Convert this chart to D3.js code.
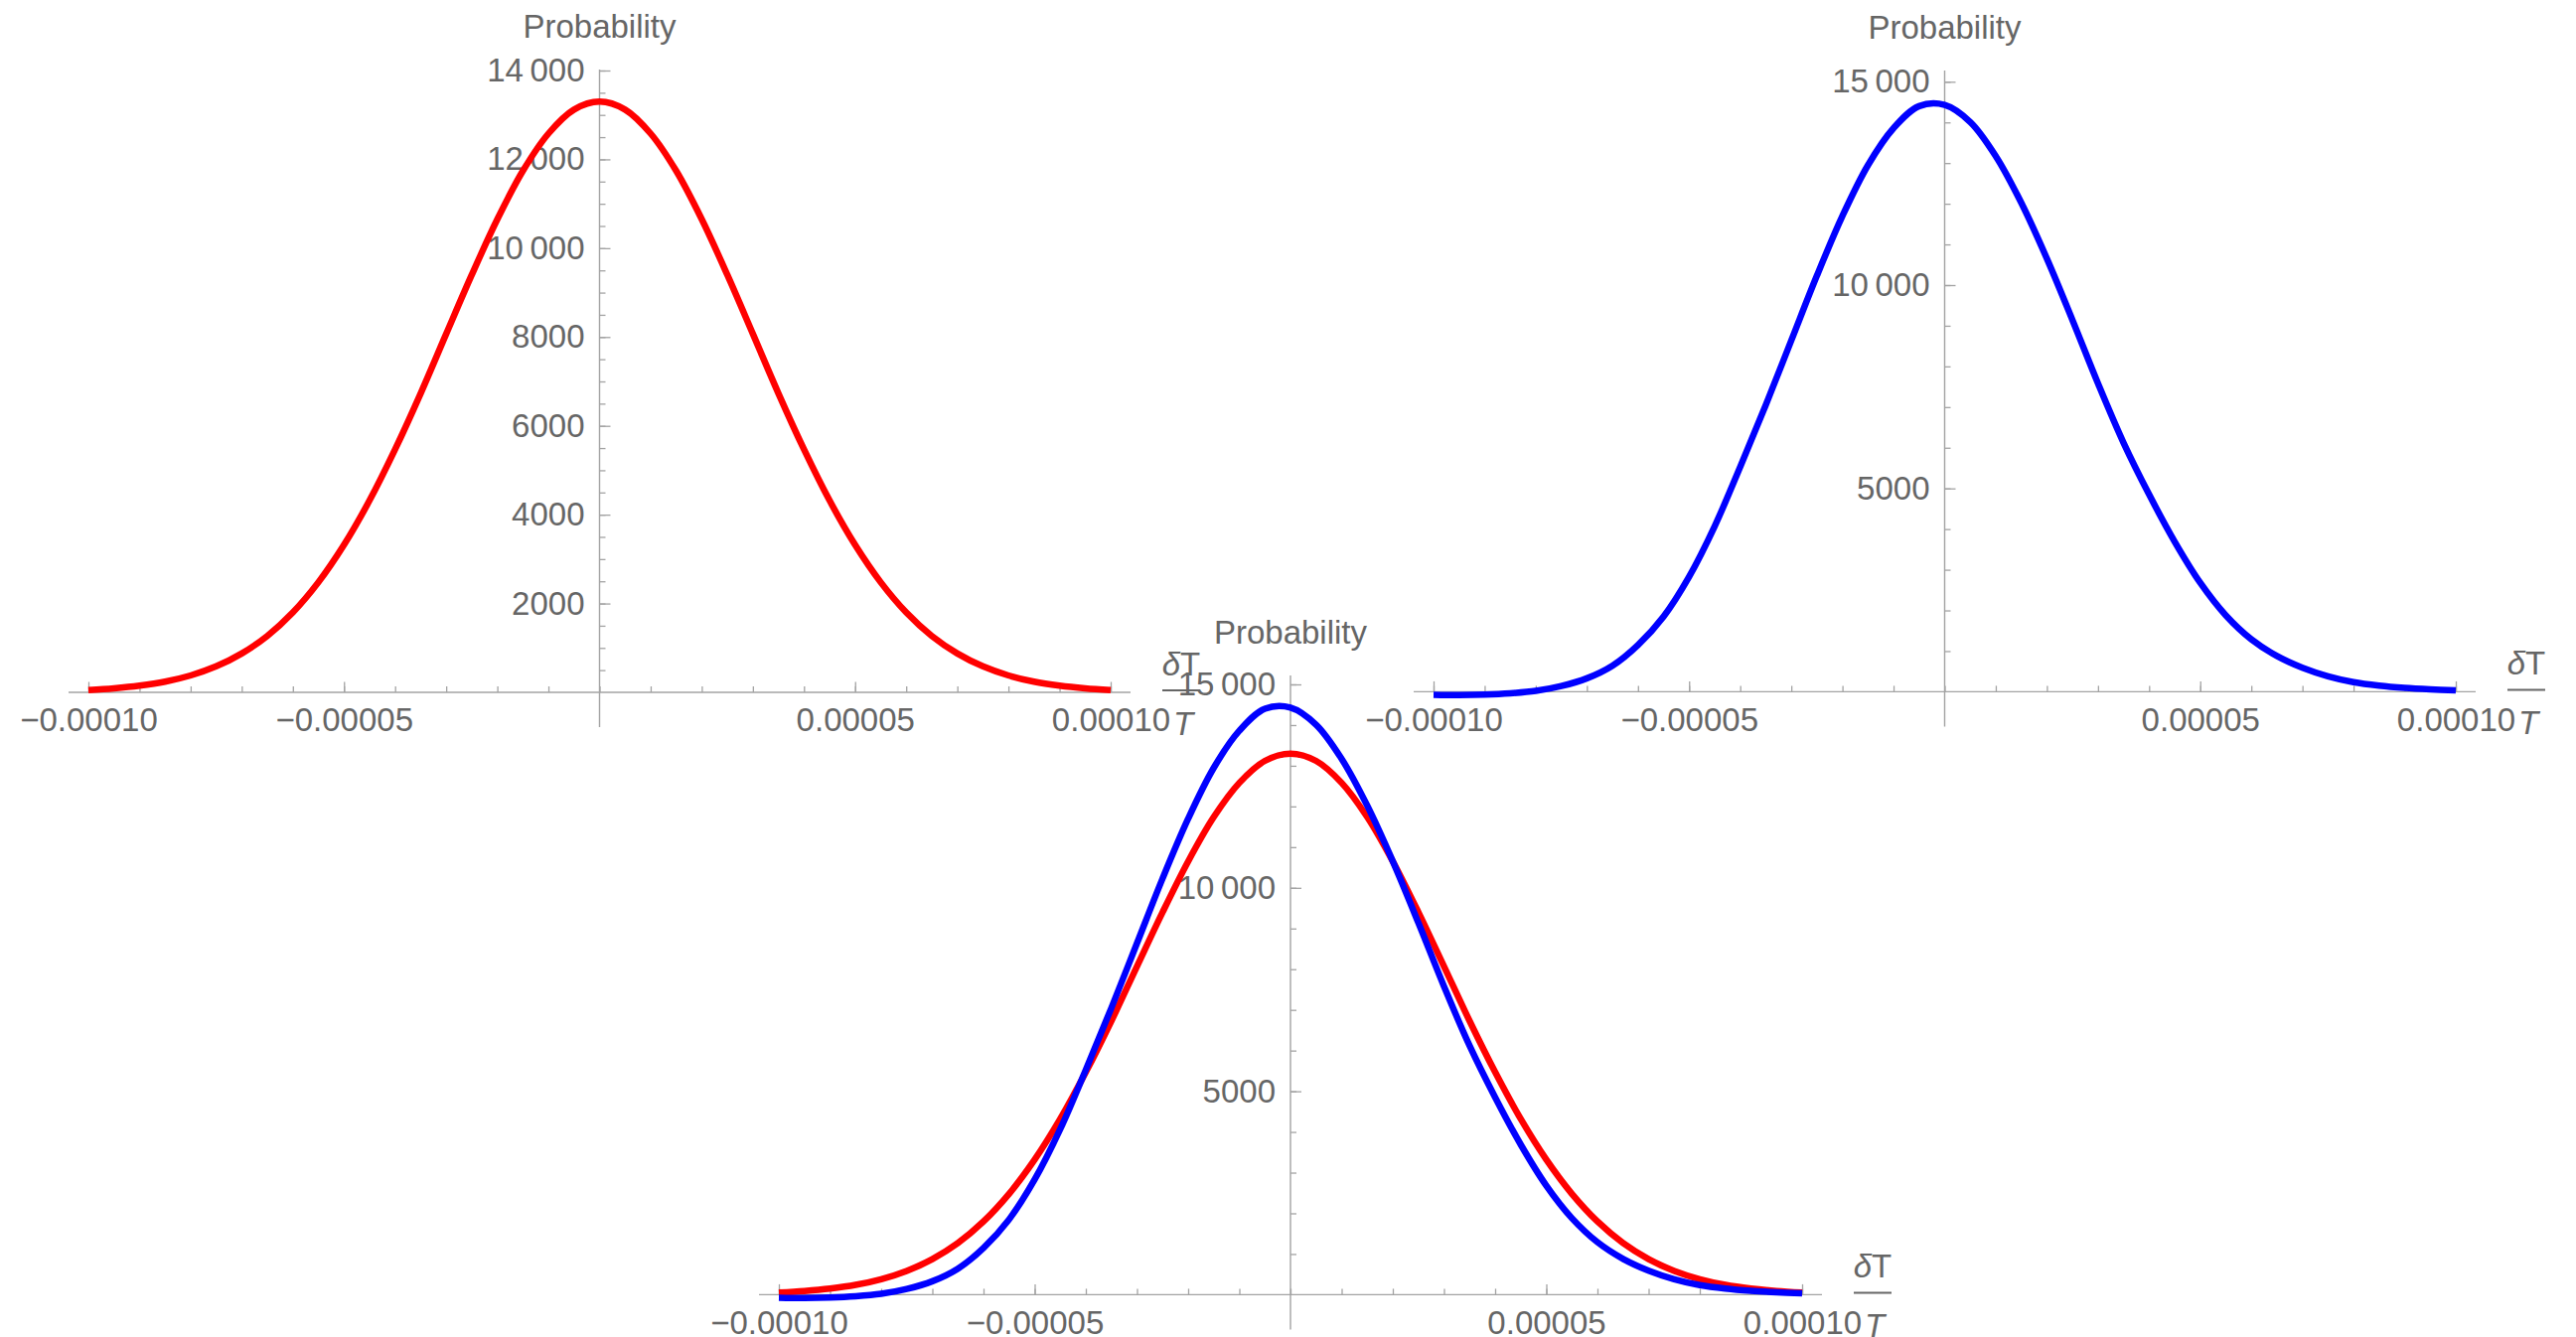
<!DOCTYPE html>
<html>
<head>
<meta charset="utf-8">
<script src="https://cdn.jsdelivr.net/npm/d3@7"></script>
<style>
  html, body { margin: 0; padding: 0; background: #fff; }
  svg { display: block; }
</style>
</head>
<body>
<div id="chart"></div>
<script>
const W = 2593;
const H = 1346;

// x values (δT/T), read every 0.000005
const deltaT = [
  -0.0001, -0.000095, -0.00009, -0.000085, -0.00008, -0.000075, -0.00007, -0.000065,
  -0.00006, -0.000055, -0.00005, -0.000045, -0.00004, -0.000035, -0.00003, -0.000025,
  -0.00002, -0.000015, -0.00001, -0.000005, 0, 0.000005, 0.00001, 0.000015,
  0.00002, 0.000025, 0.00003, 0.000035, 0.00004, 0.000045, 0.00005, 0.000055,
  0.00006, 0.000065, 0.00007, 0.000075, 0.00008, 0.000085, 0.00009, 0.000095, 0.0001
];

// red curve (top left panel)
const redProb = [
  50, 90, 150, 240, 380, 585, 875, 1270,
  1800, 2480, 3320, 4320, 5470, 6730, 8070, 9400,
  10650, 11740, 12580, 13120, 13300, 13120, 12580, 11740,
  10650, 9400, 8070, 6730, 5470, 4320, 3320, 2480,
  1800, 1270, 875, 585, 380, 240, 150, 90, 50
];

// blue curve (top right panel)
const blueProb = [
  -73, -80, -70, -40, 20, 140, 330, 640,
  1150, 1850, 2830, 4070, 5530, 7050, 8640, 10230,
  11700, 12950, 13860, 14400, 14430, 14010, 13170, 12020,
  10650, 9140, 7580, 6120, 4850, 3690, 2680, 1880,
  1290, 880, 590, 380, 235, 150, 95, 60, 35
];

const xTickValues = [-0.0001, -0.00005, 0.00005, 0.0001];
const xTickLabels = ['\u22120.00010', '\u22120.00005', '0.00005', '0.00010'];

const redYTicks = [2000, 4000, 6000, 8000, 10000, 12000, 14000];
const redYTickLabels = ['2000', '4000', '6000', '8000', '10\u2009000', '12\u2009000', '14\u2009000'];

const blueYTicks = [5000, 10000, 15000];
const blueYTickLabels = ['5000', '10\u2009000', '15\u2009000'];

const RED = '#ff0000';
const BLUE = '#0000ff';
const AXIS = '#a3a3a3';
const TEXT = '#666666';
const FONT = "'Liberation Sans', Arial, sans-serif";
const FS = 33;

const svg = d3.select('#chart').append('svg')
  .attr('width', W)
  .attr('height', H)
  .attr('viewBox', `0 0 ${W} ${H}`);

const redSeries = deltaT.map((d, i) => [d, redProb[i]]);
const blueSeries = deltaT.map((d, i) => [d, blueProb[i]]);

function drawPanel(p) {
  const x = d3.scaleLinear().domain([-0.0001, 0.0001]).range([p.left, p.right]);
  const y = d3.scaleLinear().domain([0, p.refValue]).range([p.zeroY, p.refY]);
  const g = svg.append('g');

  const x0 = x(0);
  const y0 = y(0);
  const axisLeft = p.left - 20;
  const axisRight = p.right + 20;

  // axis lines
  g.append('line')
    .attr('x1', axisLeft).attr('x2', axisRight)
    .attr('y1', y0).attr('y2', y0)
    .attr('stroke', AXIS).attr('stroke-width', 1.4);
  g.append('line')
    .attr('x1', x0).attr('x2', x0)
    .attr('y1', p.axisTop).attr('y2', y0 + 35)
    .attr('stroke', AXIS).attr('stroke-width', 1.4);

  // x ticks (pointing up into the plot)
  const xMinor = d3.range(-10, 11).map(i => i * 0.00001);
  g.append('g')
    .attr('transform', `translate(0,${y0})`)
    .call(d3.axisBottom(x).tickValues(xMinor).tickSize(-6).tickFormat(''))
    .call(s => s.select('.domain').remove());
  g.append('g')
    .attr('transform', `translate(0,${y0})`)
    .call(d3.axisBottom(x).tickValues(xTickValues).tickSize(-10.5).tickPadding(16)
      .tickFormat((d, i) => xTickLabels[i]))
    .call(s => s.select('.domain').remove());

  // y ticks (pointing right into the plot)
  g.append('g')
    .attr('transform', `translate(${x0},0)`)
    .call(d3.axisLeft(y).tickValues(p.yMinor).tickSize(-6).tickFormat(''))
    .call(s => s.select('.domain').remove());
  g.append('g')
    .attr('transform', `translate(${x0},0)`)
    .call(d3.axisLeft(y).tickValues(p.yTicks).tickSize(-11).tickPadding(15)
      .tickFormat((d, i) => p.yTickLabels[i]))
    .call(s => s.select('.domain').remove());

  g.selectAll('.tick line').attr('stroke', AXIS).attr('stroke-width', 1.3);
  g.selectAll('.tick text')
    .attr('fill', TEXT)
    .attr('font-family', FONT)
    .attr('font-size', FS);

  // axis titles
  g.append('text')
    .attr('x', x0)
    .attr('y', p.axisTop - 32)
    .attr('text-anchor', 'middle')
    .attr('font-family', FONT)
    .attr('font-size', FS)
    .attr('fill', TEXT)
    .text('Probability');

  const fc = axisRight + 51;
  const num = g.append('text')
    .attr('x', fc)
    .attr('y', y0 - 17)
    .attr('text-anchor', 'middle')
    .attr('font-family', FONT)
    .attr('font-size', FS)
    .attr('fill', TEXT);
  num.append('tspan').attr('font-style', 'italic').text('\u03b4');
  num.append('tspan').text('T');
  g.append('line')
    .attr('x1', fc - 19).attr('x2', fc + 19)
    .attr('y1', y0 - 2).attr('y2', y0 - 2)
    .attr('stroke', TEXT).attr('stroke-width', 2);
  g.append('text')
    .attr('x', fc + 2)
    .attr('y', y0 + 43)
    .attr('text-anchor', 'middle')
    .attr('font-family', FONT)
    .attr('font-size', FS)
    .attr('font-style', 'italic')
    .attr('fill', TEXT)
    .text('T');

  const line = d3.line()
    .x(d => x(d[0]))
    .y(d => y(d[1]))
    .curve(d3.curveCatmullRom.alpha(0.5));

  p.series.forEach(s => {
    g.append('path')
      .datum(s.data)
      .attr('d', line)
      .attr('fill', 'none')
      .attr('stroke', s.color)
      .attr('stroke-width', 6.5)
      .attr('stroke-linejoin', 'round');
  });
}

// top left: red
drawPanel({
  left: 89, right: 1118,
  zeroY: 697, refY: 71, refValue: 14000,
  axisTop: 70,
  yTicks: redYTicks, yTickLabels: redYTickLabels,
  yMinor: d3.range(1, 29).map(i => i * 500),
  series: [{ data: redSeries, color: RED }]
});

// top right: blue
drawPanel({
  left: 1443, right: 2472,
  zeroY: 696.4, refY: 82.3, refValue: 15000,
  axisTop: 71,
  yTicks: blueYTicks, yTickLabels: blueYTickLabels,
  yMinor: d3.range(1, 16).map(i => i * 1000),
  series: [{ data: blueSeries, color: BLUE }]
});

// bottom: both
drawPanel({
  left: 784, right: 1814,
  zeroY: 1303.4, refY: 689, refValue: 15000,
  axisTop: 680,
  yTicks: blueYTicks, yTickLabels: blueYTickLabels,
  yMinor: d3.range(1, 16).map(i => i * 1000),
  series: [{ data: redSeries, color: RED }, { data: blueSeries, color: BLUE }]
});
</script>
</body>
</html>
